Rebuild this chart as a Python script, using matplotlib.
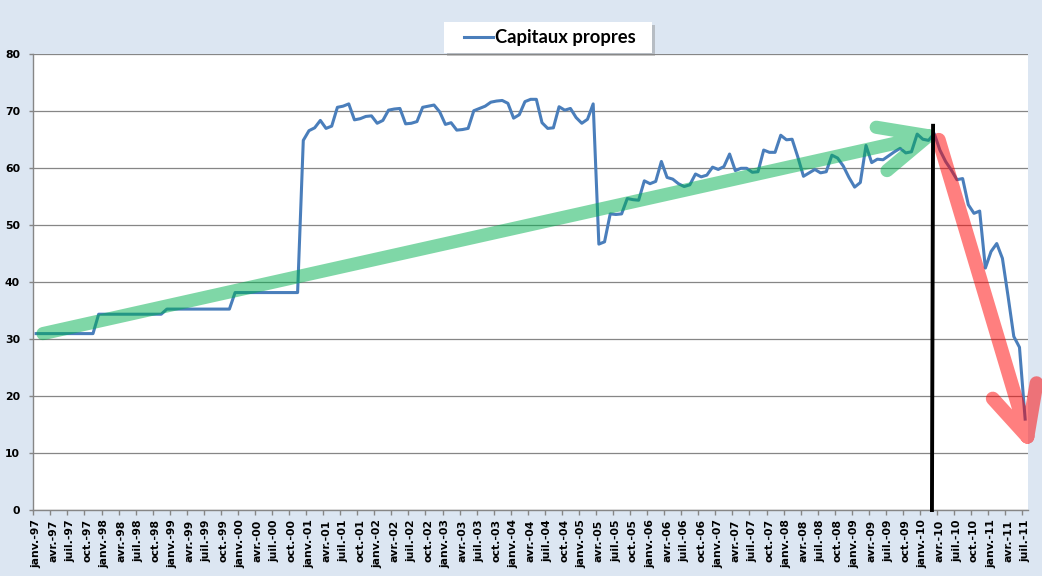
import matplotlib
matplotlib.use('Agg')
import matplotlib.pyplot as plt
from matplotlib.patches import Rectangle
from matplotlib.lines import Line2D
import numpy as np

# valeurs mensuelles, janv.-97 -> juil.-11
cp_1997 = [31.0, 31.0, 31.0, 31.0, 31.0, 31.0, 31.0, 31.0, 31.0, 31.0, 31.0, 34.4]
cp_1998 = [34.4, 34.4, 34.4, 34.4, 34.4, 34.4, 34.4, 34.4, 34.4, 34.4, 34.4, 35.3]
cp_1999 = [35.3, 35.3, 35.3, 35.3, 35.3, 35.3, 35.3, 35.3, 35.3, 35.3, 35.3, 38.2]
cp_2000 = [38.2, 38.2, 38.2, 38.2, 38.2, 38.2, 38.2, 38.2, 38.2, 38.2, 38.2, 64.9]
cp_2001 = [66.6, 67.1, 68.4, 67.0, 67.4, 70.7, 70.9, 71.3, 68.5, 68.7, 69.1, 69.2]
cp_2002 = [67.9, 68.4, 70.2, 70.4, 70.5, 67.8, 67.9, 68.2, 70.7, 70.9, 71.1, 69.9]
cp_2003 = [67.7, 68.0, 66.7, 66.8, 67.0, 70.1, 70.5, 70.9, 71.6, 71.8, 71.9, 71.4]
cp_2004 = [68.8, 69.4, 71.7, 72.1, 72.1, 68.0, 67.0, 67.1, 70.8, 70.2, 70.5, 68.9]
cp_2005 = [67.9, 68.6, 71.3, 46.7, 47.1, 52.0, 51.9, 52.0, 54.7, 54.5, 54.4, 57.8]
cp_2006 = [57.3, 57.7, 61.2, 58.4, 58.1, 57.3, 56.8, 57.1, 59.0, 58.5, 58.8, 60.2]
cp_2007 = [59.8, 60.3, 62.5, 59.6, 60.0, 60.0, 59.3, 59.4, 63.2, 62.8, 62.8, 65.8]
cp_2008 = [65.0, 65.1, 62.0, 58.6, 59.2, 59.8, 59.2, 59.4, 62.3, 61.8, 60.4, 58.4]
cp_2009 = [56.7, 57.5, 64.0, 61.0, 61.6, 61.5, 62.2, 62.9, 63.5, 62.7, 62.9, 66.0]
cp_2010 = [65.1, 64.9, 66.1, 63.2, 61.2, 59.7, 58.0, 58.2, 53.6, 52.1, 52.5, 42.5]
cp_2011 = [45.4, 46.8, 44.2, 37.5, 30.5, 28.6, 16.0]

annees = list(range(1997, 2012))
mois = ['janv.', 'févr.', 'mars', 'avr.', 'mai', 'juin',
        'juil.', 'août', 'sept.', 'oct.', 'nov.', 'déc.']
serie_nom = 'Capitaux propres'

# fleches dessinees a la main (mois, valeur)
fleche_verte = [(147.8, 67.2), (157.0, 65.7), (149.7, 59.6), None, (1.2, 31.0), (157.0, 65.7)]
fleche_rouge = [(168.3, 19.6), (174.4, 12.9), (176.0, 22.3), None, (158.8, 65.0), (174.4, 12.9)]
trait_noir = [(157.8, 67.8), (157.6, -0.3)]

capitaux = np.array(cp_1997 + cp_1998 + cp_1999 + cp_2000 + cp_2001 + cp_2002 +
                    cp_2003 + cp_2004 + cp_2005 + cp_2006 + cp_2007 + cp_2008 +
                    cp_2009 + cp_2010 + cp_2011)
n = len(capitaux)
x = np.arange(n)
etiquettes = [mois[i % 12] + '-' + str(annees[i // 12])[2:] for i in range(n)]

bleu = '#4a7ebb'
fond = '#dce6f2'

fig = plt.figure(figsize=(10.42, 5.76), dpi=100, facecolor=fond)
ax = fig.add_axes([0.03196, 0.11406, 0.9546, 0.79167])
ax.set_facecolor('white')

ax.plot(x, capitaux, color=bleu, lw=2.2, zorder=3, solid_joinstyle='round')


def trace(points, **kw):
    xs = [np.nan if p is None else p[0] for p in points]
    ys = [np.nan if p is None else p[1] for p in points]
    ax.plot(xs, ys, clip_on=False, **kw)


trace(fleche_verte, color='#00b050', alpha=0.5, lw=9.5, solid_capstyle='round',
      solid_joinstyle='round', zorder=4)
trace(fleche_rouge, color='#ff0000', alpha=0.5, lw=10, solid_capstyle='round',
      solid_joinstyle='round', zorder=4)
trace(trait_noir, color='black', lw=2.8, solid_capstyle='butt', zorder=5)

ax.set_xlim(-0.5, n - 0.5)
ax.set_ylim(0, 80)

# graduations
ax.set_xticks(np.arange(-0.5, n - 1, 3))
ax.set_xticklabels([])
ax.set_xticks(x[::3], minor=True)
ax.set_xticklabels(etiquettes[::3], minor=True, rotation=90, fontsize=7.8,
                   fontweight='bold', va='top', ha='center')
ax.tick_params(axis='x', which='major', length=3.5, width=1, color='#868686', direction='out')
ax.tick_params(axis='x', which='minor', length=0, pad=6.5)
ax.set_yticks(np.arange(0, 81, 10))
ax.set_yticklabels([str(v) for v in range(0, 81, 10)], fontsize=7.8, fontweight='bold')
ax.tick_params(axis='y', length=3, width=1, color='#868686', pad=6.5)

ax.grid(axis='y', color='#868686', lw=0.9)
ax.set_axisbelow(True)
for s in ['top', 'right']:
    ax.spines[s].set_visible(False)
for s in ['left', 'bottom']:
    ax.spines[s].set_color('#868686')
    ax.spines[s].set_linewidth(1)

# legende
W, H = 1042.0, 576.0
ombre = Rectangle((447 / W, 1 - 56 / H), 208 / W, 31 / H, transform=fig.transFigure,
                  facecolor='#8c8c8c', edgecolor='none', alpha=0.45, zorder=10)
boite = Rectangle((444 / W, 1 - 53 / H), 208 / W, 31 / H, transform=fig.transFigure,
                  facecolor='white', edgecolor='none', zorder=11)
fig.add_artist(ombre)
fig.add_artist(boite)
fig.add_artist(Line2D([464 / W, 493 / W], [1 - 37.3 / H, 1 - 37.3 / H], transform=fig.transFigure,
                      color=bleu, lw=2.2, zorder=12))
fig.text(495 / W, 1 - 43.3 / H, serie_nom, fontsize=13.2, fontweight='bold',
         family=['Lato', 'DejaVu Sans'], va='baseline', ha='left', zorder=12)

fig.savefig('out.png', dpi=100, facecolor=fond)
